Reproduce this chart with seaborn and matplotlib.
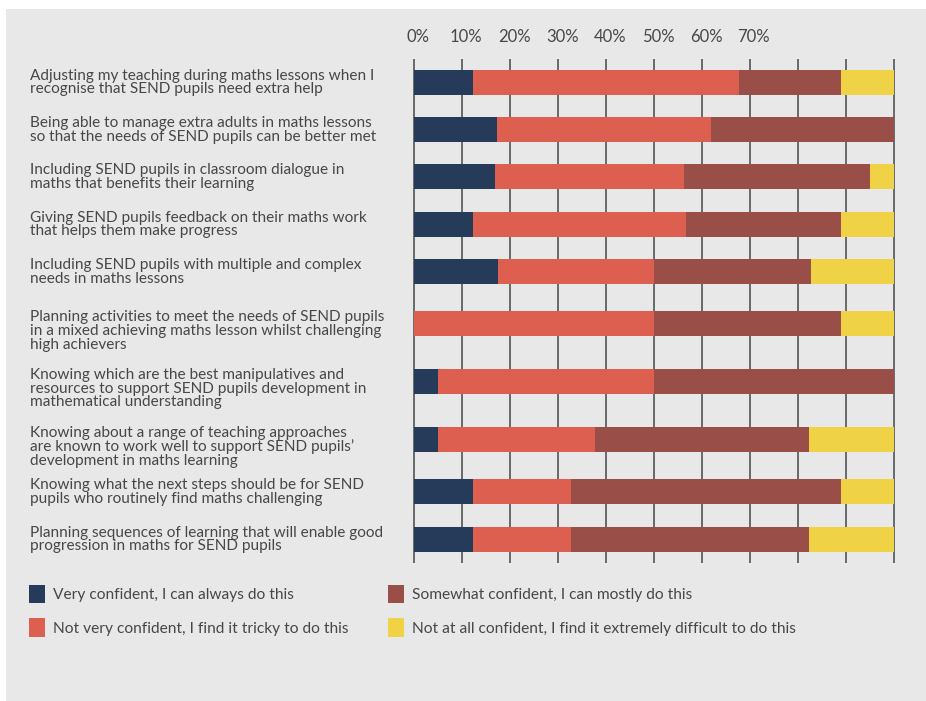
import matplotlib
matplotlib.use("Agg")
import matplotlib.pyplot as plt
import matplotlib.transforms as mtransforms
from matplotlib.patches import Rectangle
import seaborn as sns
import numpy as np

# ---------------- data ----------------
categories = [
    "Adjusting my teaching during maths lessons when I\nrecognise that SEND pupils need extra help",
    "Being able to manage extra adults in maths lessons\nso that the needs of SEND pupils can be better met",
    "Including SEND pupils in classroom dialogue in\nmaths that benefits their learning",
    "Giving SEND pupils feedback on their maths work\nthat helps them make progress",
    "Including SEND pupils with multiple and complex\nneeds in maths lessons",
    "Planning activities to meet the needs of SEND pupils\nin a mixed achieving maths lesson whilst challenging\nhigh achievers",
    "Knowing which are the best manipulatives and\nresources to support SEND pupils development in\nmathematical understanding",
    "Knowing about a range of teaching approaches\nare known to work well to support SEND pupils’\ndevelopment in maths learning",
    "Knowing what the next steps should be for SEND\npupils who routinely find maths challenging",
    "Planning sequences of learning that will enable good\nprogression in maths for SEND pupils",
]
very_confident = [12.2, 17.2, 16.8, 12.2, 17.5, 0.0, 4.9, 4.9, 12.2, 12.2]
not_very_confident = [55.5, 44.7, 39.5, 44.5, 32.5, 50.0, 45.1, 32.8, 20.5, 20.5]
somewhat_confident = [21.3, 38.1, 38.8, 32.3, 32.8, 39.0, 50.0, 44.6, 56.3, 49.6]
not_at_all_confident = [11.0, 0.0, 4.9, 11.0, 17.2, 11.0, 0.0, 17.7, 11.0, 17.7]

series_names = [
    "Very confident, I can always do this",
    "Not very confident, I find it tricky to do this",
    "Somewhat confident, I can mostly do this",
    "Not at all confident, I find it extremely difficult to do this",
]
tick_values = [0, 10, 20, 30, 40, 50, 60, 70, 80, 90, 100]
tick_labels = ["0%", "10%", "20%", "30%", "40%", "50%", "60%", "70%", "", "", ""]

# ---------------- style ----------------
colors = ["#263B5A", "#DC5F50", "#994E48", "#F0D246"]
bg = "#E8E8E8"
text_color = "#474747"

sns.set_theme(style="white")
plt.rcParams["font.family"] = ["Lato", "DejaVu Sans"]
plt.rcParams["font.weight"] = "normal"
plt.rcParams["text.color"] = text_color

W, H = 926, 701
fig = plt.figure(figsize=(W / 100, H / 100), dpi=100)
fig.patch.set_facecolor("white")
fig.patches.append(Rectangle((6 / W, 0), 1 - 6 / W, 1 - 9 / H,
                             transform=fig.transFigure, facecolor=bg,
                             edgecolor="none", zorder=-10))

# ---------------- layout ----------------
# row spacing follows the number of text lines of each label
n_lines = [c.count("\n") + 1 for c in categories]
gaps = [2.6 + (n_lines[i] + n_lines[i + 1]) / 2 for i in range(len(categories) - 1)]
row_pos = np.concatenate([[0.0], np.cumsum(gaps)])

x0px, x100px = 414.3, 893.7
pad_units = 0.4
ppu = (x100px - x0px) / 100
left_px = x0px - pad_units * ppu
right_px = x100px + pad_units * ppu
top_px, bot_px = 59, 563
first_px, last_px = 82, 539
px_per_unit = (last_px - first_px) / row_pos[-1]

ax = fig.add_axes([left_px / W, 1 - bot_px / H, (right_px - left_px) / W, (bot_px - top_px) / H])
ax.set_facecolor("none")

# stacked cumulative values
stack = np.vstack([very_confident, not_very_confident, somewhat_confident, not_at_all_confident])
cum = np.cumsum(stack, axis=0)

bar_px = 25
width_rel = bar_px / (min(gaps) * px_per_unit)
for i in range(3, -1, -1):
    sns.barplot(x=cum[i], y=row_pos, orient="h", native_scale=True, color=colors[i],
                width=width_rel, saturation=1, ax=ax, label=series_names[i],
                edgecolor="none", linewidth=0, zorder=3)

handles, labels = ax.get_legend_handles_labels()
if ax.get_legend() is not None:
    ax.get_legend().remove()

ax.set_xlim(-pad_units, 100 + pad_units)
ax.set_ylim(row_pos[-1] + (bot_px - last_px) / px_per_unit,
            row_pos[0] - (first_px - top_px) / px_per_unit)
ax.set_xlabel("")
ax.set_ylabel("")

# gridlines / top tick labels
ax.set_xticks(tick_values)
ax.set_xticklabels(tick_labels)
ax.xaxis.grid(True, color="#5C6064", linewidth=1.3, zorder=0)
ax.yaxis.grid(False)
ax.set_axisbelow(True)
ax.xaxis.set_ticks_position("top")
ax.xaxis.set_label_position("top")
ax.tick_params(axis="x", length=0, pad=10, labelsize=12, labelcolor=text_color)
offx = mtransforms.ScaledTranslation(4 / 100, 0, fig.dpi_scale_trans)
for lab in ax.get_xticklabels():
    lab.set_transform(lab.get_transform() + offx)

# y labels: left aligned at x=30, top aligned with bar top
ax.set_yticks(row_pos)
ax.set_yticklabels(categories)
ax.tick_params(axis="y", length=0, pad=(left_px - 30) * 72 / 100, labelsize=11.1,
               labelcolor=text_color)
offy = mtransforms.ScaledTranslation(0, 13.5 / 100, fig.dpi_scale_trans)
for lab in ax.get_yticklabels():
    lab.set_horizontalalignment("left")
    lab.set_verticalalignment("top")
    lab.set_linespacing(0.97)
    lab.set_transform(lab.get_transform() + offy)

for s in ax.spines.values():
    s.set_visible(False)

# ---------------- legend ----------------
hmap = dict(zip(labels, handles))
leg_kw = dict(frameon=False, handlelength=1.05, handleheight=1.45, handletextpad=0.5,
              labelspacing=0.95, fontsize=11.2, labelcolor=text_color,
              loc="upper left", borderaxespad=0, borderpad=0)
fig.legend([hmap[series_names[0]], hmap[series_names[1]]],
           [series_names[0], series_names[1]],
           bbox_to_anchor=(29 / W, 1 - 585 / H), **leg_kw)
fig.legend([hmap[series_names[2]], hmap[series_names[3]]],
           [series_names[2], series_names[3]],
           bbox_to_anchor=(388 / W, 1 - 585 / H), **leg_kw)

fig.savefig("out.png", dpi=100, facecolor=fig.get_facecolor())
